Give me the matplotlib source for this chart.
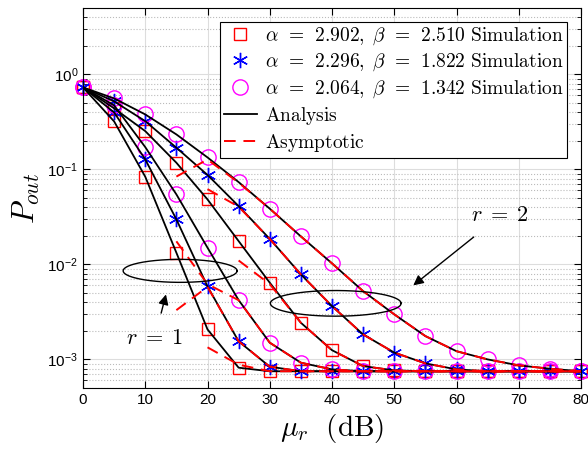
import numpy as np
import matplotlib
matplotlib.use("Agg")
import matplotlib.pyplot as plt

plt.rcParams['mathtext.fontset'] = 'cm'
plt.rcParams['font.family'] = ['Liberation Sans', 'DejaVu Sans']

# SNR grid in dB
mu = np.arange(0, 85, 5)
mu_asy = np.arange(15, 85, 5)
nan = np.nan

# outage probability, r = 2
sq_r2 = [0.73, 0.439, 0.253, 0.1176, 0.0483, 0.01759, 0.00642, 0.00243, 0.00125,
         0.00085, 0.000766, 0.00075, 0.00075, 0.00075, 0.00075, 0.00075, 0.00075]
st_r2 = [0.73, 0.52, 0.322, 0.1692, 0.0875, 0.0411, 0.01855, 0.00785, 0.00364,
         0.00183, 0.00118, 0.000908, 0.000785, 0.00075, 0.00075, 0.00075, 0.00075]
ci_r2 = [0.73, 0.559, 0.379, 0.2335, 0.1337, 0.0735, 0.0386, 0.0197, 0.01025,
         0.00523, 0.00298, 0.00176, 0.00122, 0.001, 0.000865, 0.000798, 0.00075]
# outage probability, r = 1
sq_r1 = [0.73, 0.32, 0.0838, 0.01328, 0.00207, 0.000818, 0.00075, 0.00075, 0.00075,
         0.00075, 0.00075, 0.00075, 0.00075, 0.00075, 0.00075, 0.00075, 0.00075]
st_r1 = [0.73, 0.398, 0.1274, 0.0298, 0.00586, 0.00155, 0.000838, 0.00075, 0.00075,
         0.00075, 0.00075, 0.00075, 0.00075, 0.00075, 0.00075, 0.00075, 0.00075]
ci_r1 = [0.73, 0.472, 0.1717, 0.0546, 0.0150, 0.00421, 0.0015, 0.000923, 0.000785,
         0.00075, 0.00075, 0.00075, 0.00075, 0.00075, 0.00075, 0.00075, 0.00075]

# high-SNR asymptotes from 15 dB (nan where the expansion is not positive)
asy_sq_r2 = [nan, nan, 0.011, 0.0062, 0.00243, 0.00125, 0.00085, 0.000766,
             0.00075, 0.00075, 0.00075, 0.00075, 0.00075, 0.00075]
asy_st_r2 = [nan, 0.062, 0.0405, 0.01855, 0.00785, 0.00364, 0.00183, 0.00118,
             0.000908, 0.000785, 0.00075, 0.00075, 0.00075, 0.00075]
asy_ci_r2 = [0.084, 0.127, 0.0725, 0.0386, 0.0197, 0.01025, 0.00523, 0.00298, 0.00176,
             0.00122, 0.001, 0.000865, 0.000798, 0.00075]
asy_sq_r1 = [nan, 0.00134, 0.00088, 0.00075, 0.00075, 0.00075, 0.00075, 0.00075,
             0.00075, 0.00075, 0.00075, 0.00075, 0.00075, 0.00075]
asy_st_r1 = [0.0033, 0.0058, 0.00155, 0.000838, 0.00075, 0.00075, 0.00075, 0.00075,
             0.00075, 0.00075, 0.00075, 0.00075, 0.00075, 0.00075]
asy_ci_r1 = [0.0175, 0.0062, 0.0042, 0.0015, 0.000923, 0.000785, 0.00075, 0.00075,
             0.00075, 0.00075, 0.00075, 0.00075, 0.00075, 0.00075]

labels = [r'$\alpha\;\,=\;\,2.902,\;\beta\;\,=\;\,2.510\ \mathrm{Simulation}$',
          r'$\alpha\;\,=\;\,2.296,\;\beta\;\,=\;\,1.822\ \mathrm{Simulation}$',
          r'$\alpha\;\,=\;\,2.064,\;\beta\;\,=\;\,1.342\ \mathrm{Simulation}$']

fig = plt.figure(figsize=(5.88, 4.55), dpi=100)
ax = fig.add_axes([83/588, 1-388/455, 498/588, 380/455])

sims = [(sq_r1, sq_r2), (st_r1, st_r2), (ci_r1, ci_r2)]
asys = [(asy_sq_r1, asy_sq_r2), (asy_st_r1, asy_st_r2), (asy_ci_r1, asy_ci_r2)]
styles = [dict(marker='s', color='red', ms=9, mfc='none', mew=1.0),
          dict(marker=(6, 2, 0), color='blue', ms=11, mew=1.0),
          dict(marker='o', color='magenta', ms=11, mfc='none', mew=1.0)]

handles = []
for (s1, s2), st, lab in zip(sims, styles, labels):
    h, = ax.plot(mu, s1, ls='none', label=lab, clip_on=False, **st)
    ax.plot(mu, s2, ls='none', clip_on=False, **st)
    handles.append(h)

for s1, s2 in sims:
    h_an, = ax.plot(mu, s1, 'k-', lw=1.3, label=r'$\mathrm{Analysis}$')
    ax.plot(mu, s2, 'k-', lw=1.3)
for a1, a2 in asys:
    h_as, = ax.plot(mu_asy, a1, 'r--', lw=1.4, dashes=(6, 4), label=r'$\mathrm{Asymptotic}$')
    ax.plot(mu_asy, a2, 'r--', lw=1.4, dashes=(6, 4))
handles += [h_an, h_as]

# ellipses grouping the two diversity orders
t = np.linspace(0, 2*np.pi, 200)
for xc, yc, w, hgt in [(15.6, -2.068, 18.3, 0.242), (40.6, -2.41, 21.0, 0.27)]:
    ax.plot(xc + w/2*np.cos(t), 10**(yc + hgt/2*np.sin(t)), 'k-', lw=1.0)

ax.annotate(r'$r\;=\;1$', xy=(13.33, 10**-2.316), xytext=(11.5, 10**-2.78),
            fontsize=16, ha='center', va='center',
            arrowprops=dict(arrowstyle='-|>', color='k', lw=1.0, shrinkA=9, shrinkB=0,
                            mutation_scale=15))
ax.annotate(r'$r\;=\;2$', xy=(53.05, 10**-2.221), xytext=(67.0, 10**-1.49),
            fontsize=16, ha='center', va='center',
            arrowprops=dict(arrowstyle='-|>', color='k', lw=1.0, shrinkA=9, shrinkB=0,
                            mutation_scale=15))

ax.set_yscale('log')
ax.set_xlim(0, 80)
ax.set_ylim(5e-4, 5)
ax.set_xticks(np.arange(0, 90, 10))
ax.tick_params(which='both', direction='in', top=True, right=True, labelsize=11)
ax.tick_params(which='major', length=5)
ax.tick_params(which='minor', length=3)
ax.grid(True, which='major', color='#dddddd', lw=0.8)
ax.grid(True, which='minor', axis='y', color='#bbbbbb', ls=':', lw=0.8)
ax.set_axisbelow(True)

ax.set_xlabel(r'$\mu_r\ \ (\mathrm{dB})$', fontsize=21)
ax.set_ylabel(r'$P_{out}$', fontsize=22)

leg = ax.legend(handles=handles, loc='upper right', fontsize=14, fancybox=False,
                edgecolor='k', framealpha=1, borderpad=0.2, labelspacing=0.25,
                handlelength=1.7, handletextpad=0.4, borderaxespad=0.7)
leg.get_frame().set_linewidth(0.8)

fig.savefig('out.png', dpi=100)
